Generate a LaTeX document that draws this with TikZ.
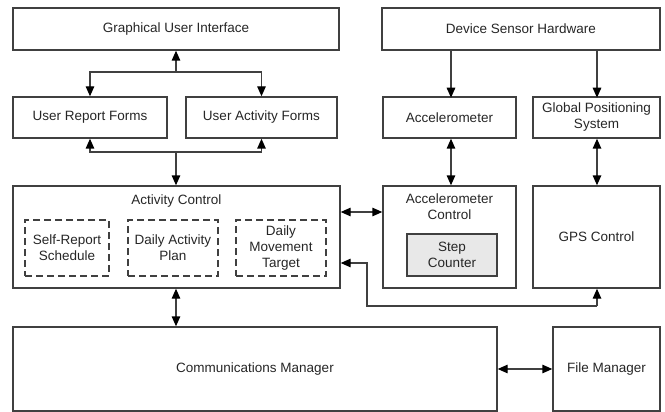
\documentclass[tikz,border=0pt]{standalone}
\usepackage{fontspec}
\setmainfont{Liberation Sans}
\usepackage{tikz}
\usetikzlibrary{arrows.meta}

\definecolor{lncol}{HTML}{404040}
\definecolor{stepfill}{HTML}{E8E8E8}

\begin{document}
\begin{tikzpicture}[x=1pt, y=-1pt,
    every node/.style={font=\fontsize{13.5}{16}\selectfont, text=black!85, align=center, inner sep=0pt},
    blk/.style={draw=lncol, line width=1.4pt},
    dashblk/.style={draw=lncol, line width=1.4pt, dash pattern=on 7pt off 4pt},
    link/.style={draw=lncol, line width=1.4pt},
    tip/.style={-{Triangle[length=10pt,width=8.5pt,color=black]}},
    tips/.style={{Triangle[length=10pt,width=8.5pt,color=black]}-{Triangle[length=10pt,width=8.5pt,color=black]}}]
    \useasboundingbox (0,0) rectangle (665,412);

    % top row
    \node[blk, minimum width=326pt, minimum height=42pt] (gui) at (176,29) {Graphical User Interface};
    \node[blk, minimum width=278pt, minimum height=42pt] (dsh) at (521,29) {Device Sensor Hardware};

    % second row
    \node[blk, minimum width=154pt, minimum height=41pt] (urf) at (90,117.5) {User Report Forms};
    \node[blk, minimum width=151pt, minimum height=41pt] (uaf) at (261.5,117.5) {User Activity Forms};
    \node[blk, minimum width=133pt, minimum height=41pt] (acc) at (449.5,117.5) {Accelerometer};
    \node[blk, minimum width=127pt, minimum height=41pt] (gps) at (596.5,117.5) {Global Positioning\\System};

    % control row
    \node[blk, minimum width=327pt, minimum height=102pt] (ac) at (176.5,237) {};
    \node (actitle) at (176.5,201) {Activity Control};
    \node[dashblk, minimum width=84pt, minimum height=56pt] (srs) at (67,248) {Self-Report\\Schedule};
    \node[dashblk, minimum width=90pt, minimum height=56pt] (dap) at (173,248) {Daily Activity\\Plan};
    \node[dashblk, minimum width=90pt, minimum height=56pt] (dmt) at (281,248) {Daily\\Movement\\Target};

    \node[blk, minimum width=133pt, minimum height=102pt] (accctl) at (449.5,237) {};
    \node (accctltitle) at (449.5,207) {Accelerometer\\Control};
    \node[blk, fill=stepfill, minimum width=90pt, minimum height=42pt] (stepcnt) at (452,255) {Step\\Counter};

    \node[blk, minimum width=127pt, minimum height=102pt] (gpsctl) at (596.5,237) {GPS Control};

    % bottom row
    \node[blk, minimum width=484pt, minimum height=84pt] (comm) at (255,369) {Communications Manager};
    \node[blk, minimum width=107pt, minimum height=84pt] (fm) at (606.5,369) {File Manager};

    % branch points
    \coordinate (gsplit) at (176,72);
    \coordinate (fsplit) at (176,152);
    \coordinate (gpsturn) at (597,306);
    \coordinate (acturn) at (367,306);

    % gui to forms
    \draw[link, tip] (gsplit) -- (gsplit |- gui.south);
    \foreach \f in {urf,uaf}
        \draw[link, tip] (gsplit) -| (\f.north);
    % forms to activity control
    \draw[link, tip] (fsplit) -- (fsplit |- ac.north);
    \foreach \f in {urf,uaf}
        \draw[link, tip] (fsplit) -| (\f.south);

    % sensors
    \draw[link, tip] (dsh.south -| acc.north) ++(1.5,0) -- ++(0,47);
    \draw[link, tip] (dsh.south -| gps.north) ++(0.5,0) -- ++(0,47);
    \draw[link, tips] ([xshift=1.5pt]acc.south) -- ([xshift=1.5pt]accctl.north);
    \draw[link, tips] ([xshift=0.5pt]gps.south) -- ([xshift=0.5pt]gpsctl.north);

    % controls
    \draw[link, tips] (ac.east |- 0,212) -- (accctl.west |- 0,212);
    \draw[link, tip] (gpsturn) -- ([xshift=0.5pt]gpsctl.south);
    \draw[link, tip] (gpsturn) -- (acturn) |- (ac.east |- 0,263);

    % managers
    \draw[link, tips] (fsplit |- ac.south) -- (fsplit |- comm.north);
    \draw[link, tips] (comm.east) -- (fm.west);
\end{tikzpicture}
\end{document}
